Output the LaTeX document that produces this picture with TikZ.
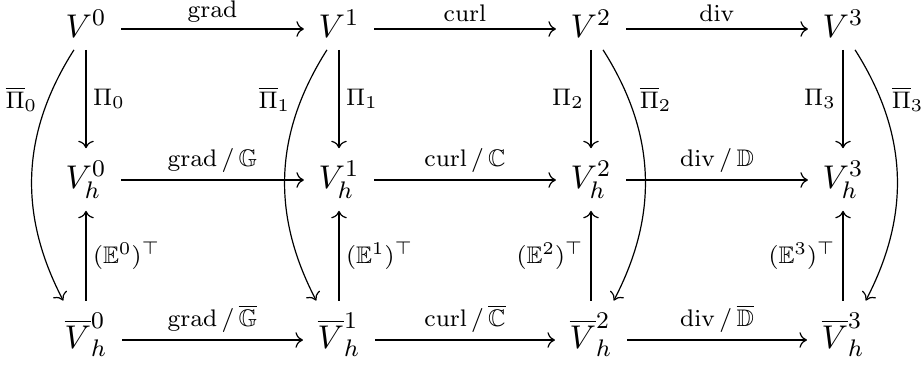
\documentclass[tikz,border=0pt,11pt]{standalone}
\usepackage{amsmath,amssymb}
\usepackage{tikz}
\usetikzlibrary{arrows.meta,cd}

\begin{document}
\begin{tikzpicture}[x=0.3333pt,y=0.3333pt]
  \path[use as bounding box] (0,0) rectangle (921,365);
  \tikzset{
    deSpace/.style={
      shape=asymmetrical rectangle, inner xsep=1ex, inner ysep=0.85ex,
      execute at begin node={$}, execute at end node={$}
    },
    deLabel/.style={
      inner sep=2.2pt,
      execute at begin node={$\scriptstyle}, execute at end node={$}
    },
    deMap/.style={
      -{To}, line width=.4pt
    }
  }

  % continuous spaces
  \node[deSpace] (V0) at (86,336) {V^0};
  \node[deSpace] (V1) at (339,336) {V^1};
  \node[deSpace] (V2) at (591,336) {V^2};
  \node[deSpace] (V3) at (843,336) {V^3};

  % primal discrete spaces
  \node[deSpace] (Vh0) at (86,185) {V_h^0};
  \node[deSpace] (Vh1) at (339,185) {V_h^1};
  \node[deSpace] (Vh2) at (591,185) {V_h^2};
  \node[deSpace] (Vh3) at (843,185) {V_h^3};

  % dual discrete spaces
  \node[deSpace] (Vb0) at (86,25) {\overline{V}_h^0};
  \node[deSpace] (Vb1) at (339,25) {\overline{V}_h^1};
  \node[deSpace] (Vb2) at (591,25) {\overline{V}_h^2};
  \node[deSpace] (Vb3) at (843,25) {\overline{V}_h^3};

  % horizontal maps
  \draw[deMap] (V0) -- node[deLabel,above] {\mathrm{grad}} (V1);
  \draw[deMap] (V1) -- node[deLabel,above] {\mathrm{curl}} (V2);
  \draw[deMap] (V2) -- node[deLabel,above] {\mathrm{div}} (V3);
  \draw[deMap] (Vh0) -- node[deLabel,above] {\mathrm{grad}\,/\,\mathbb{G}} (Vh1);
  \draw[deMap] (Vh1) -- node[deLabel,above] {\mathrm{curl}\,/\,\mathbb{C}} (Vh2);
  \draw[deMap] (Vh2) -- node[deLabel,above] {\mathrm{div}\,/\,\mathbb{D}} (Vh3);
  \draw[deMap] (Vb0) -- node[deLabel,above] {\mathrm{grad}\,/\,\overline{\mathbb{G}}} (Vb1);
  \draw[deMap] (Vb1) -- node[deLabel,above] {\mathrm{curl}\,/\,\overline{\mathbb{C}}} (Vb2);
  \draw[deMap] (Vb2) -- node[deLabel,above] {\mathrm{div}\,/\,\overline{\mathbb{D}}} (Vb3);

  % projections
  \draw[deMap] (V0) -- node[deLabel,right] {\Pi_0} (Vh0);
  \draw[deMap] (V1) -- node[deLabel,right] {\Pi_1} (Vh1);
  \draw[deMap] (V2) -- node[deLabel,left] {\Pi_2} (Vh2);
  \draw[deMap] (V3) -- node[deLabel,left] {\Pi_3} (Vh3);

  % transposed extensions
  \draw[deMap] (Vb0) -- node[deLabel,right] {(\mathbb{E}^0)^\top} (Vh0);
  \draw[deMap] (Vb1) -- node[deLabel,right] {(\mathbb{E}^1)^\top} (Vh1);
  \draw[deMap] (Vb2) -- node[deLabel,left] {(\mathbb{E}^2)^\top} (Vh2);
  \draw[deMap] (Vb3) -- node[deLabel,left] {(\mathbb{E}^3)^\top} (Vh3);

  % dual projections
  \draw[deMap] (V0) to[bend right]
    node[deLabel,left,pos=.2,inner sep=3.5pt] {\overline{\Pi}_0} (Vb0);
  \draw[deMap] (V1) to[bend right]
    node[deLabel,left,pos=.2,inner sep=3.5pt] {\overline{\Pi}_1} (Vb1);
  \draw[deMap] (V2) to[bend left]
    node[deLabel,right,pos=.2,inner sep=3.5pt] {\overline{\Pi}_2} (Vb2);
  \draw[deMap] (V3) to[bend left]
    node[deLabel,right,pos=.2,inner sep=3.5pt] {\overline{\Pi}_3} (Vb3);
\end{tikzpicture}
\end{document}
